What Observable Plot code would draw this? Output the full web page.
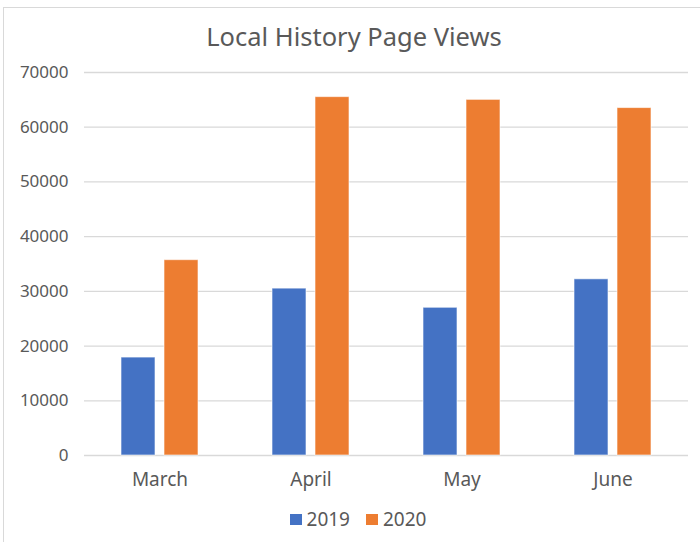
<!DOCTYPE html>
<html>
<head>
<meta charset="utf-8">
<script src="https://cdn.jsdelivr.net/npm/d3@7"></script>
<script src="https://cdn.jsdelivr.net/npm/@observablehq/plot@0.6"></script>
<style>
  html, body { margin: 0; padding: 0; background: #fff; }
  #wrap { position: relative; width: 700px; height: 542px; overflow: hidden; font-family: "Noto Sans", sans-serif; color: #595959; background: #fff; }
  #frame { position: absolute; left: 3px; top: 7px; width: 720px; height: 560px; border-left: 1.5px solid #d9d9d9; border-top: 1.5px solid #d9d9d9; }
  #title { position: absolute; left: 0; width: 708px; top: 19px; text-align: center; font-size: 25.5px; line-height: 34px; color: #595959; }
  #chart { position: absolute; left: 0; top: 50px; }
  #legend { position: absolute; top: 506px; left: 0; width: 716px; display: flex; justify-content: center; align-items: center; font-size: 19px; color: #595959; gap: 16px; }
  .item { display: flex; align-items: center; gap: 5px; }
  .sw { width: 12px; height: 11px; display: inline-block; }
</style>
</head>
<body>
<div id="wrap">
  <div id="frame"></div>
  <div id="title">Local History Page Views</div>
  <div id="chart"></div>
  <div id="legend"></div>
</div>
<script>
const months = ["March", "April", "May", "June"];
const years = ["2019", "2020"];
const views2019 = [17900, 30500, 27000, 32200];
const views2020 = [35700, 65500, 65000, 63500];
const yTicks = [0, 10000, 20000, 30000, 40000, 50000, 60000, 70000];
const colors = ["#4472C4", "#ED7D31"];

const data = [];
months.forEach((m, i) => {
  data.push({month: m, year: years[0], value: views2019[i]});
  data.push({month: m, year: years[1], value: views2020[i]});
});

const chart = Plot.plot({
  width: 700,
  height: 452,
  marginLeft: 83,
  marginRight: 12,
  marginTop: 22,
  marginBottom: 47,
  style: {fontFamily: "Noto Sans, sans-serif", fontSize: "17px", color: "#595959", background: "transparent"},
  fx: {domain: months, padding: 0, label: null, axis: "bottom", tickSize: 0, tickPadding: 17},
  x: {domain: years, paddingInner: 0.21, paddingOuter: 0.86, axis: null},
  y: {domain: [0, 70000], ticks: yTicks, tickSize: 0, tickPadding: 16, label: null, tickFormat: d => String(d)},
  color: {domain: years, range: colors},
  marks: [
    Plot.ruleY(yTicks, {stroke: "#d9d9d9", strokeWidth: 1.3}),
    Plot.barY(data, {fx: "month", x: "year", y: "value", fill: "year", stroke: "white", strokeOpacity: 0.6, strokeWidth: 1})
  ]
});
chart.querySelectorAll("g[aria-label='fx-axis tick label']").forEach(e => e.setAttribute("font-size", "19"));
document.getElementById("chart").appendChild(chart);

const legend = document.getElementById("legend");
years.forEach((y, i) => {
  const it = document.createElement("div");
  it.className = "item";
  const sw = document.createElement("span");
  sw.className = "sw";
  sw.style.background = colors[i];
  const t = document.createElement("span");
  t.textContent = y;
  it.appendChild(sw);
  it.appendChild(t);
  legend.appendChild(it);
});
</script>
</body>
</html>
